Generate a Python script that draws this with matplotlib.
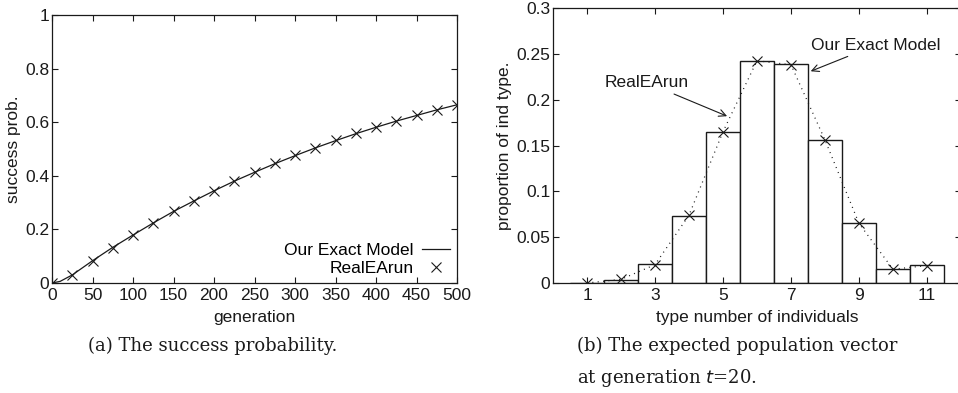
import matplotlib
matplotlib.use("Agg")
import matplotlib.pyplot as plt

# ---------------- data ----------------
generations = [0, 25, 50, 75, 100, 125, 150, 175, 200, 225, 250, 275, 300,
               325, 350, 375, 400, 425, 450, 475, 500]
real_ea_success = [0.0, 0.029, 0.082, 0.132, 0.178, 0.224, 0.268, 0.306, 0.344,
                   0.380, 0.413, 0.446, 0.476, 0.505, 0.532, 0.558, 0.582,
                   0.605, 0.626, 0.647, 0.665]
model_generations = [0, 10, 25, 50, 75, 100, 125, 150, 175, 200, 225, 250, 275,
                     300, 325, 350, 375, 400, 425, 450, 475, 500]
model_success = [0.0, 0.006, 0.030, 0.083, 0.133, 0.179, 0.224, 0.267, 0.306,
                 0.344, 0.380, 0.413, 0.445, 0.475, 0.504, 0.531, 0.557, 0.581,
                 0.604, 0.625, 0.646, 0.665]

types = [1, 2, 3, 4, 5, 6, 7, 8, 9, 10, 11]
model_proportion = [0.0, 0.003, 0.0205, 0.0736, 0.165, 0.242, 0.2385, 0.156,
                    0.065, 0.015, 0.020]
real_ea_proportion = [0.0, 0.004, 0.020, 0.074, 0.165, 0.2425, 0.238, 0.156,
                      0.065, 0.015, 0.019]

left_xticks = [0, 50, 100, 150, 200, 250, 300, 350, 400, 450, 500]
left_yticks = [0, 0.2, 0.4, 0.6, 0.8, 1]
left_yticklabels = ["0", "0.2", "0.4", "0.6", "0.8", "1"]
right_xticks = [1, 3, 5, 7, 9, 11]
right_yticks = [0, 0.05, 0.1, 0.15, 0.2, 0.25, 0.3]
right_yticklabels = ["0", "0.05", "0.1", "0.15", "0.2", "0.25", "0.3"]

# ---------------- style ----------------
plt.rcParams['font.family'] = ['Liberation Sans', 'DejaVu Sans']
FS = 12.5
plt.rcParams['font.size'] = FS
INK = '#1a1a1a'

W, H = 958, 393
fig = plt.figure(figsize=(W / 100, H / 100), dpi=100)


def rect(l, r, t, b):
    return [l / W, 1 - b / H, (r - l) / W, (b - t) / H]


def style_axes(ax):
    for s in ax.spines.values():
        s.set_color(INK)
        s.set_linewidth(0.9)
    ax.tick_params(direction='in', top=True, right=True, length=4,
                   width=0.8, color=INK, labelsize=FS, labelcolor=INK, pad=2)
    ax.tick_params(axis='x', pad=3.5)


# ---------------- left panel ----------------
ax1 = fig.add_axes(rect(52, 457, 15, 283))
ax1.plot(model_generations, model_success, color=INK, lw=0.9,
         label='Our Exact Model')
ax1.plot(generations, real_ea_success, linestyle='none', marker='x',
         color=INK, ms=7, mew=0.8, label='RealEArun')
ax1.set_xlim(0, 500)
ax1.set_ylim(0, 1)
ax1.set_xticks(left_xticks)
ax1.set_yticks(left_yticks)
ax1.set_yticklabels(left_yticklabels)
style_axes(ax1)
ax1.set_xlabel('generation', fontsize=FS, color=INK, labelpad=5)
ax1.set_ylabel('success prob.', fontsize=FS, color=INK, labelpad=3)
ax1.legend(loc='lower right', frameon=False, markerfirst=False,
           fontsize=FS, handlelength=1.6, handletextpad=0.5,
           borderaxespad=0.0, labelspacing=0.15)

# ---------------- right panel ----------------
ax2 = fig.add_axes(rect(553, 961, 8, 283))
ax2.bar(types, model_proportion, width=1.0, facecolor='white',
        edgecolor=INK, linewidth=1.0)
ax2.plot(types, real_ea_proportion, linestyle=(0, (0.8, 3.5)), color=INK,
         lw=0.9, marker='x', ms=7, mew=0.8)
ax2.set_xlim(0, 12)
ax2.set_ylim(0, 0.3)
ax2.set_xticks(right_xticks)
ax2.set_yticks(right_yticks)
ax2.set_yticklabels(right_yticklabels)
style_axes(ax2)
ax2.set_xlabel('type number of individuals', fontsize=FS, color=INK,
               labelpad=5)
ax2.set_ylabel('proportion of ind type.', fontsize=FS, color=INK, labelpad=3)

arrow = dict(arrowstyle='->', color=INK, lw=0.8, shrinkA=2, shrinkB=0)
ax2.annotate('Our Exact Model', xy=(7.58, 0.231), xytext=(9.5, 0.2595),
             ha='center', va='center', fontsize=FS, color=INK,
             arrowprops=arrow)
ax2.annotate('RealEArun', xy=(5.12, 0.182), xytext=(2.76, 0.2185),
             ha='center', va='center', fontsize=FS, color=INK,
             arrowprops=arrow)

# ---------------- captions ----------------
serif = ['DejaVu Serif']
fig.text(88 / W, 1 - 346 / H, '(a) The success probability.',
         fontsize=13, family=serif, ha='left', va='center', color=INK)
fig.text(577 / W, 1 - 346 / H, '(b) The expected population vector',
         fontsize=13, family=serif, ha='left', va='center', color=INK)
fig.text(577 / W, 1 - 378 / H, 'at generation $t$=20.',
         fontsize=13, family=serif, ha='left', va='center', color=INK)

fig.savefig('out.png', dpi=100)
